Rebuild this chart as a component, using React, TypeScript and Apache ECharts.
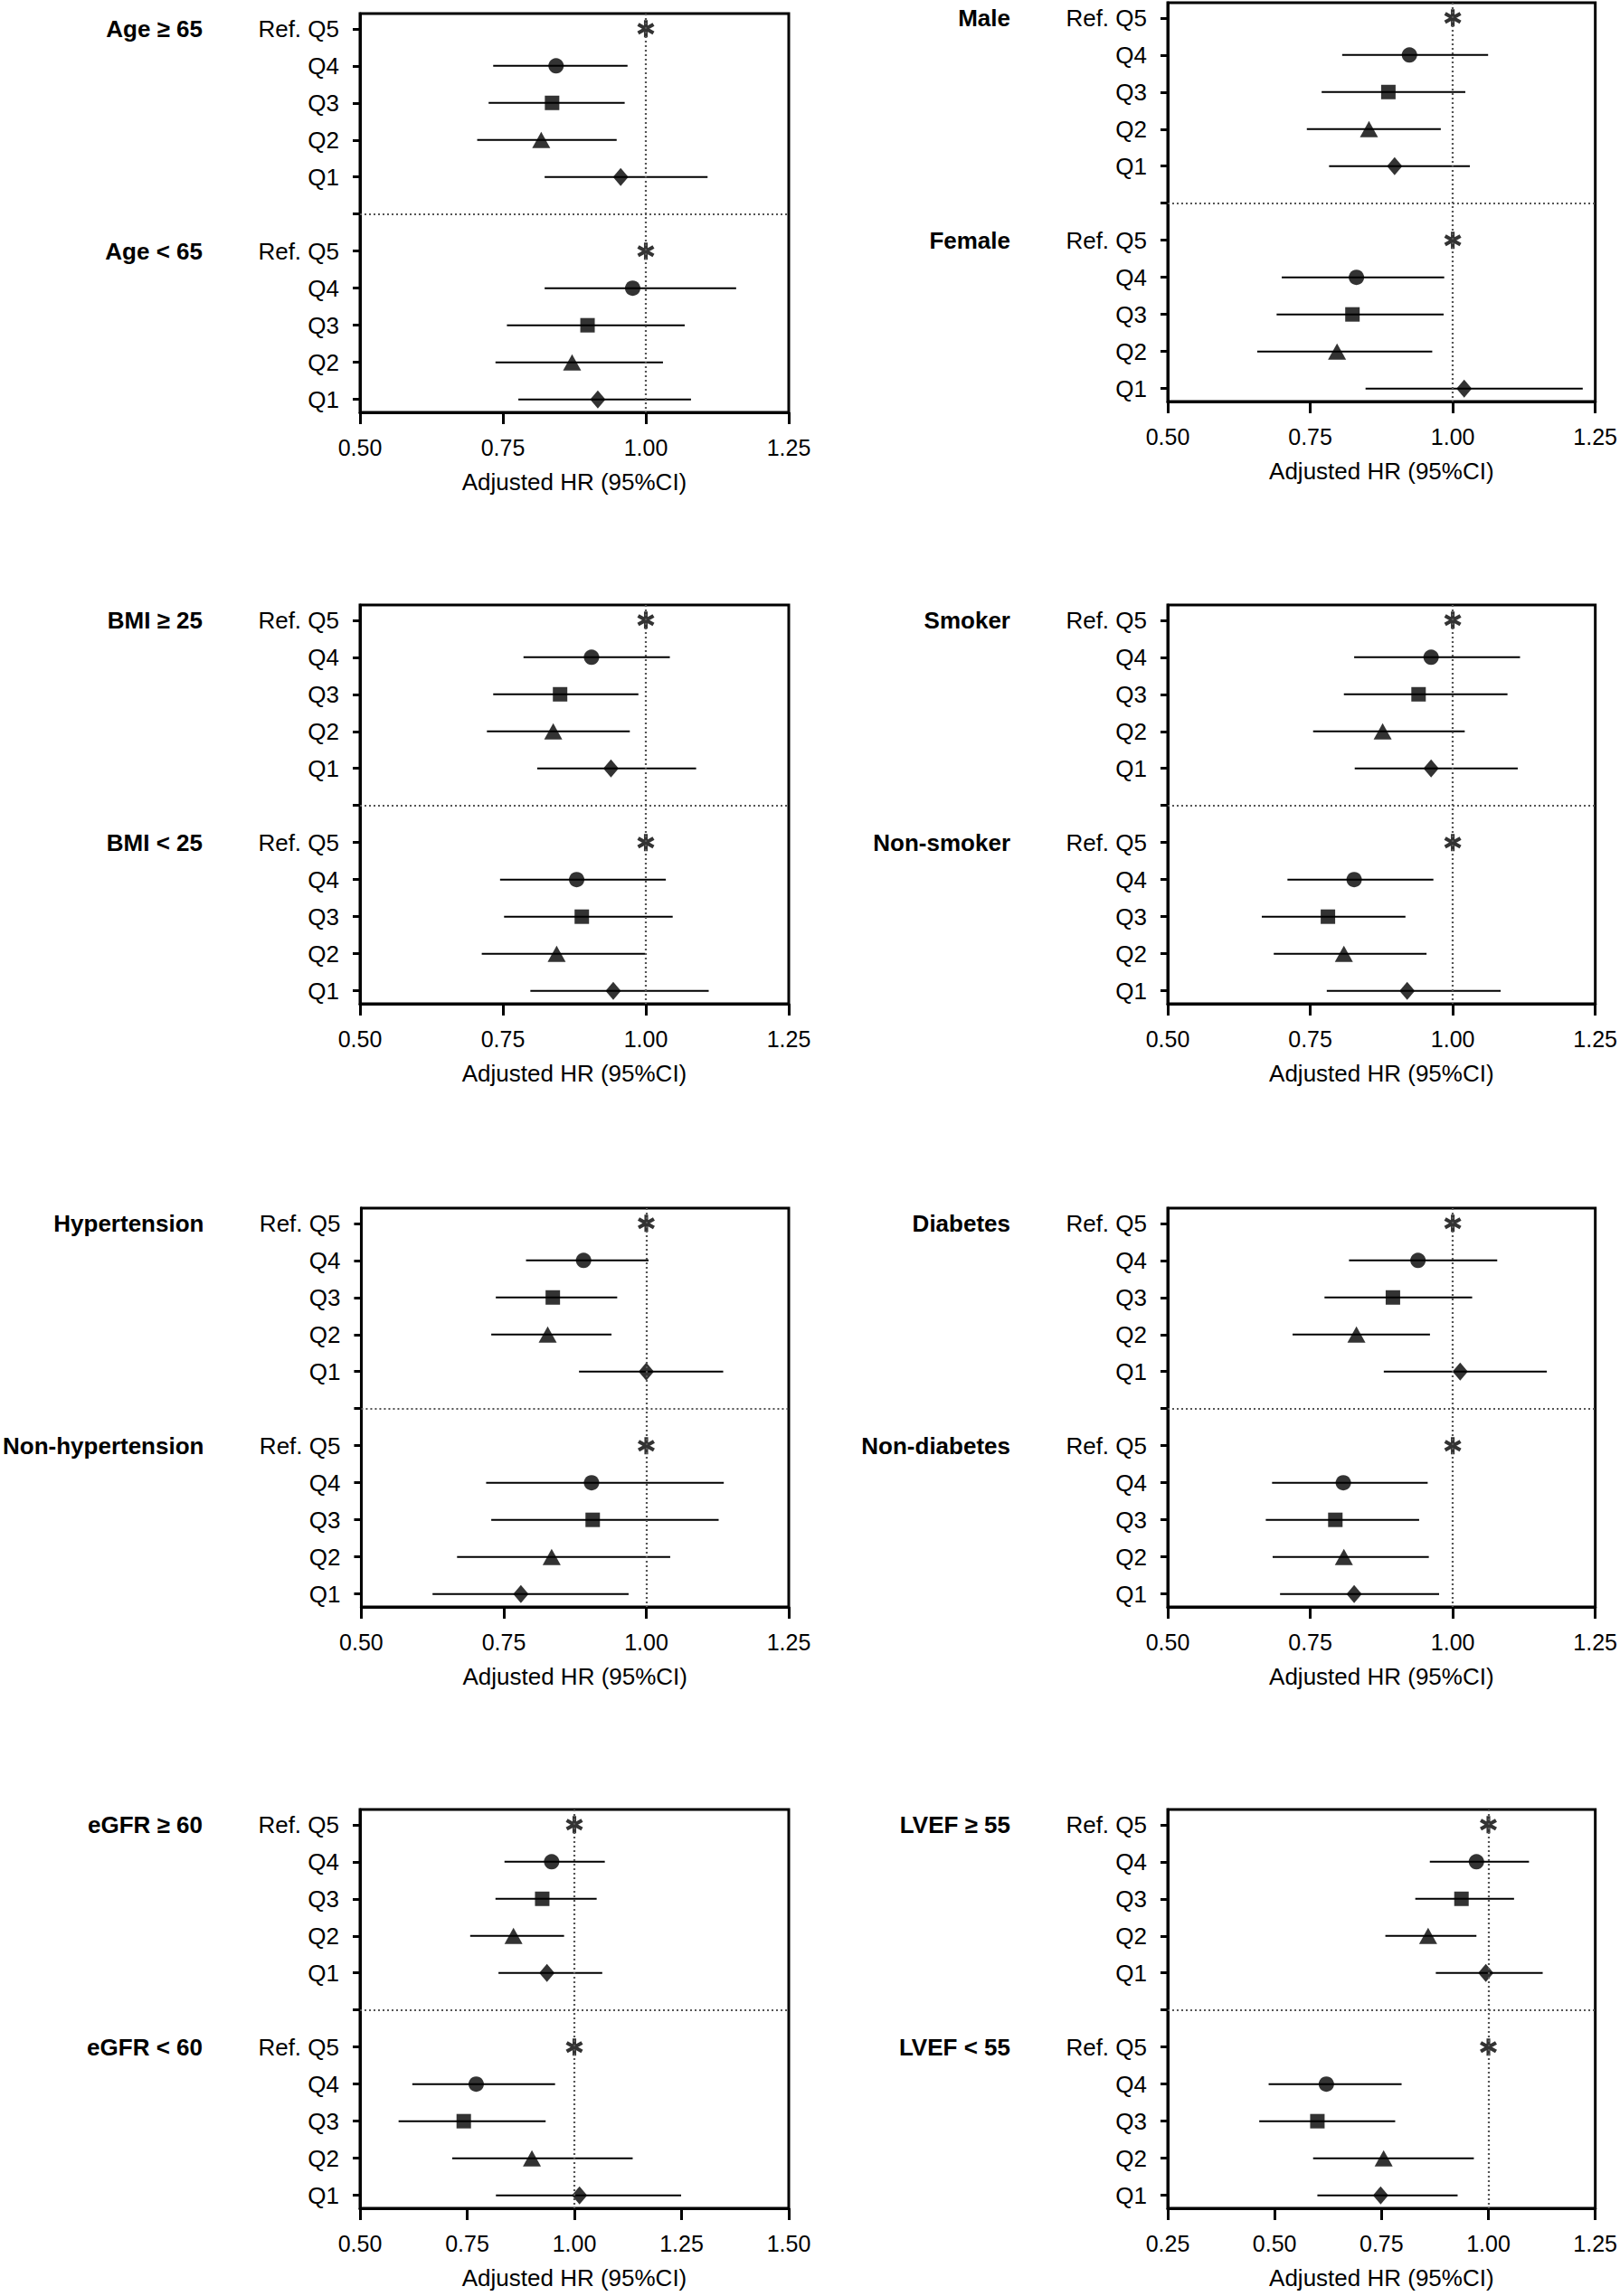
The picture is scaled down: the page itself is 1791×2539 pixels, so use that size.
import React, { useEffect, useRef } from "react";
import * as echarts from "echarts";

// ---------- data ----------
const rowLabels = ["Ref. Q5", "Q4", "Q3", "Q2", "Q1"];
const xAxisTitle = "Adjusted HR (95%CI)";

const ageGe65HR = [1, 0.843, 0.836, 0.817, 0.956];
const ageGe65Lo = [null, 0.733, 0.725, 0.705, 0.823];
const ageGe65Hi = [null, 0.968, 0.963, 0.949, 1.108];
const ageLt65HR = [1, 0.977, 0.898, 0.871, 0.916];
const ageLt65Lo = [null, 0.823, 0.757, 0.737, 0.777];
const ageLt65Hi = [null, 1.158, 1.068, 1.03, 1.079];

const maleHR = [1, 0.924, 0.887, 0.853, 0.898];
const maleLo = [null, 0.806, 0.77, 0.744, 0.783];
const maleHi = [null, 1.062, 1.022, 0.979, 1.03];
const femaleHR = [1, 0.831, 0.824, 0.797, 1.02];
const femaleLo = [null, 0.7, 0.691, 0.657, 0.847];
const femaleHi = [null, 0.985, 0.984, 0.964, 1.228];

const bmiGe25HR = [1, 0.905, 0.85, 0.838, 0.939];
const bmiGe25Lo = [null, 0.786, 0.733, 0.722, 0.81];
const bmiGe25Hi = [null, 1.042, 0.987, 0.972, 1.088];
const bmiLt25HR = [1, 0.879, 0.888, 0.844, 0.943];
const bmiLt25Lo = [null, 0.745, 0.752, 0.713, 0.798];
const bmiLt25Hi = [null, 1.035, 1.047, 0.999, 1.11];

const smokerHR = [1, 0.962, 0.94, 0.877, 0.962];
const smokerLo = [null, 0.827, 0.809, 0.755, 0.828];
const smokerHi = [null, 1.118, 1.096, 1.021, 1.114];
const nonSmokerHR = [1, 0.827, 0.781, 0.809, 0.92];
const nonSmokerLo = [null, 0.71, 0.665, 0.686, 0.779];
const nonSmokerHi = [null, 0.966, 0.917, 0.954, 1.084];

const htnHR = [1, 0.89, 0.836, 0.827, 1.0];
const htnLo = [null, 0.789, 0.736, 0.728, 0.882];
const htnHi = [null, 1.004, 0.949, 0.939, 1.135];
const nonHtnHR = [1, 0.904, 0.906, 0.834, 0.78];
const nonHtnLo = [null, 0.719, 0.728, 0.668, 0.625];
const nonHtnHi = [null, 1.136, 1.127, 1.042, 0.969];

const dmHR = [1, 0.939, 0.895, 0.831, 1.013];
const dmLo = [null, 0.818, 0.775, 0.719, 0.879];
const dmHi = [null, 1.078, 1.034, 0.96, 1.165];
const nonDmHR = [1, 0.808, 0.794, 0.809, 0.827];
const nonDmLo = [null, 0.683, 0.672, 0.684, 0.697];
const nonDmHi = [null, 0.956, 0.941, 0.958, 0.976];

const egfrGe60HR = [1, 0.947, 0.925, 0.858, 0.936];
const egfrGe60Lo = [null, 0.837, 0.816, 0.757, 0.823];
const egfrGe60Hi = [null, 1.071, 1.052, 0.976, 1.065];
const egfrLt60HR = [1, 0.771, 0.742, 0.901, 1.012];
const egfrLt60Lo = [null, 0.622, 0.59, 0.715, 0.817];
const egfrLt60Hi = [null, 0.955, 0.933, 1.136, 1.249];

const lvefGe55HR = [1, 0.972, 0.937, 0.859, 0.994];
const lvefGe55Lo = [null, 0.863, 0.829, 0.759, 0.877];
const lvefGe55Hi = [null, 1.095, 1.06, 0.972, 1.127];
const lvefLt55HR = [1, 0.621, 0.6, 0.755, 0.748];
const lvefLt55Lo = [null, 0.486, 0.464, 0.59, 0.6];
const lvefLt55Hi = [null, 0.797, 0.782, 0.966, 0.928];

const panels = [
  { names: ["Age ≥ 65", "Age < 65"], hr: [ageGe65HR, ageLt65HR], lo: [ageGe65Lo, ageLt65Lo], hi: [ageGe65Hi, ageLt65Hi], xMin: 0.5, xMax: 1.25 },
  { names: ["Male", "Female"], hr: [maleHR, femaleHR], lo: [maleLo, femaleLo], hi: [maleHi, femaleHi], xMin: 0.5, xMax: 1.25 },
  { names: ["BMI ≥ 25", "BMI < 25"], hr: [bmiGe25HR, bmiLt25HR], lo: [bmiGe25Lo, bmiLt25Lo], hi: [bmiGe25Hi, bmiLt25Hi], xMin: 0.5, xMax: 1.25 },
  { names: ["Smoker", "Non-smoker"], hr: [smokerHR, nonSmokerHR], lo: [smokerLo, nonSmokerLo], hi: [smokerHi, nonSmokerHi], xMin: 0.5, xMax: 1.25 },
  { names: ["Hypertension", "Non-hypertension"], hr: [htnHR, nonHtnHR], lo: [htnLo, nonHtnLo], hi: [htnHi, nonHtnHi], xMin: 0.5, xMax: 1.25 },
  { names: ["Diabetes", "Non-diabetes"], hr: [dmHR, nonDmHR], lo: [dmLo, nonDmLo], hi: [dmHi, nonDmHi], xMin: 0.5, xMax: 1.25 },
  { names: ["eGFR ≥ 60", "eGFR < 60"], hr: [egfrGe60HR, egfrLt60HR], lo: [egfrGe60Lo, egfrLt60Lo], hi: [egfrGe60Hi, egfrLt60Hi], xMin: 0.5, xMax: 1.5 },
  { names: ["LVEF ≥ 55", "LVEF < 55"], hr: [lvefGe55HR, lvefLt55HR], lo: [lvefGe55Lo, lvefLt55Lo], hi: [lvefGe55Hi, lvefLt55Hi], xMin: 0.25, xMax: 1.25 },
];

// ---------- styling ----------
const FONT = "'Liberation Sans', Arial, Helvetica, sans-serif";
const gridLefts = [398, 1291];
const gridTops = [[15, 3], [669, 669], [1336, 1336], [2001, 2001]];
const GRID_W = 474;
const GRID_H = 441;
const Y_MIN = -0.41;
const Y_MAX = 10.35;
const LINE_W = 3;

function asteriskPath() {
  const L = 10;
  const t = 2.1;
  const parts = [90, 30, -30].map((deg) => {
    const a = (deg * Math.PI) / 180;
    const dx = Math.cos(a);
    const dy = Math.sin(a);
    const px = -dy;
    const py = dx;
    const pts = [
      [L * dx + t * px, L * dy + t * py],
      [L * dx - t * px, L * dy - t * py],
      [-L * dx - t * px, -L * dy - t * py],
      [-L * dx + t * px, -L * dy + t * py],
    ];
    return "M" + pts.map((p) => p[0].toFixed(2) + " " + p[1].toFixed(2)).join(" L") + " Z";
  });
  return "path://" + parts.join(" ");
}

const markerSymbols = [asteriskPath(), "circle", "rect", "triangle", "diamond"];
const markerSizes: any[] = [[19, 19], 17, 16, [20, 18], [17, 20]];

export default function App() {
  const ref = useRef<HTMLDivElement>(null);

  useEffect(() => {
    document.body.style.margin = "0";
    document.body.style.overflow = "hidden";
    if (!ref.current) return;
    const chart = echarts.init(ref.current, null, { renderer: "svg" });

    const grid: any[] = [];
    const xAxis: any[] = [];
    const yAxis: any[] = [];
    const series: any[] = [];

    panels.forEach((p, i) => {
      const row = Math.floor(i / 2);
      const col = i % 2;
      grid.push({
        left: gridLefts[col],
        top: gridTops[row][col],
        width: GRID_W,
        height: GRID_H,
        show: true,
        borderColor: "#000",
        borderWidth: LINE_W,
        backgroundColor: "transparent",
        containLabel: false,
      });
      xAxis.push({
        gridIndex: i,
        type: "value",
        min: p.xMin,
        max: p.xMax,
        interval: 0.25,
        axisLine: { show: true, onZero: false, lineStyle: { color: "#000", width: LINE_W } },
        axisTick: { show: true, length: 13, lineStyle: { color: "#000", width: LINE_W } },
        axisLabel: {
          margin: 26,
          fontSize: 25,
          color: "#000",
          fontFamily: FONT,
          formatter: (v: number) => v.toFixed(2),
        },
        splitLine: { show: false },
        name: xAxisTitle,
        nameLocation: "middle",
        nameGap: 64,
        nameTextStyle: { fontSize: 26, color: "#000", fontFamily: FONT },
      });
      yAxis.push({
        gridIndex: i,
        type: "value",
        inverse: true,
        min: Y_MIN,
        max: Y_MAX,
        axisLine: { show: true, onZero: false, lineStyle: { color: "#000", width: LINE_W } },
        axisTick: {
          show: true,
          length: 8,
          customValues: [0, 1, 2, 3, 4, 5, 6, 7, 8, 9, 10],
          lineStyle: { color: "#000", width: LINE_W },
        },
        axisLabel: {
          show: true,
          customValues: [0, 1, 2, 3, 4, 6, 7, 8, 9, 10],
          formatter: (v: number) => {
            const k = Math.round(v);
            return k < 5 ? rowLabels[k] : rowLabels[k - 6];
          },
          margin: 23,
          fontSize: 26,
          color: "#000",
          fontFamily: FONT,
        },
        splitLine: { show: false },
      });
      yAxis.push({
        gridIndex: i,
        type: "value",
        inverse: true,
        min: Y_MIN,
        max: Y_MAX,
        position: "left",
        offset: 174,
        axisLine: { show: false },
        axisTick: { show: false },
        axisLabel: {
          show: true,
          customValues: [0, 6],
          formatter: (v: number) => (Math.round(v) === 0 ? p.names[0] : p.names[1]),
          margin: 0,
          fontSize: 26,
          fontWeight: "bold",
          color: "#000",
          fontFamily: FONT,
        },
        splitLine: { show: false },
      });

      const bars: any[] = [];
      const points: any[] = [];
      [0, 1].forEach((g) => {
        p.hr[g].forEach((hr, k) => {
          const y = g * 6 + k;
          points.push({
            value: [hr, y],
            symbol: markerSymbols[k],
            symbolSize: markerSizes[k],
          });
          const lo = p.lo[g][k];
          const hi = p.hi[g][k];
          if (lo != null && hi != null) bars.push([lo, hi, y]);
        });
      });

      series.push({
        type: "custom",
        xAxisIndex: i,
        yAxisIndex: 2 * i,
        data: bars,
        encode: { x: [0, 1], y: 2 },
        renderItem: (params: any, api: any) => {
          const a = api.coord([api.value(0), api.value(2)]);
          const b = api.coord([api.value(1), api.value(2)]);
          return {
            type: "line",
            shape: { x1: a[0], y1: a[1], x2: b[0], y2: b[1] },
            style: { stroke: "#000", lineWidth: 2 },
          };
        },
        markLine: {
          silent: true,
          symbol: ["none", "none"],
          label: { show: false },
          lineStyle: { color: "#555", type: [2, 3], width: 2.2 },
          data: [{ xAxis: 1 }, { yAxis: 5 }],
        },
        z: 2,
      });
      series.push({
        type: "scatter",
        xAxisIndex: i,
        yAxisIndex: 2 * i,
        data: points,
        itemStyle: { color: "#000" },
        z: 3,
      });
    });

    chart.setOption({
      animation: false,
      backgroundColor: "#fff",
      textStyle: { fontFamily: FONT },
      grid,
      xAxis,
      yAxis,
      series,
    });

    return () => chart.dispose();
  }, []);

  return (
    <div
      ref={ref}
      style={{ position: "absolute", left: 0, top: 0, width: 1791, height: 2539 }}
    />
  );
}
